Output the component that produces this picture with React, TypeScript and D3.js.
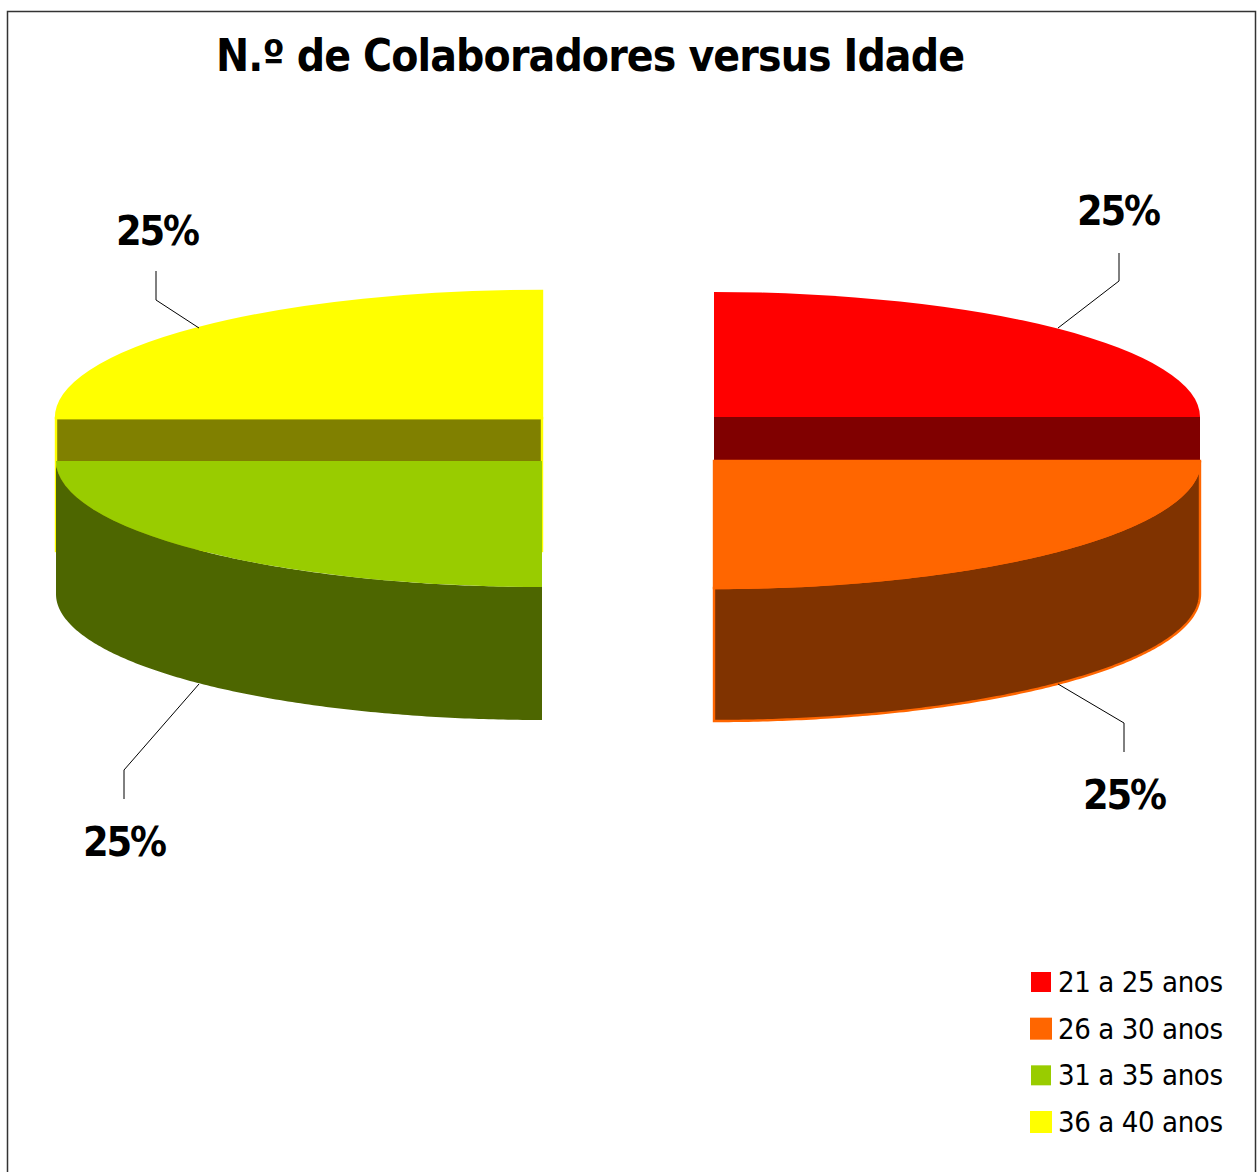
import React from "react";
import * as d3 from "d3";

const title = "N.º de Colaboradores versus Idade";
const categories = ["21 a 25 anos", "26 a 30 anos", "31 a 35 anos", "36 a 40 anos"];
const values = [25, 25, 25, 25];
const topColors = ["#ff0000", "#ff6600", "#99cc00", "#ffff00"];
const sideColors = ["#800000", "#803300", "#4d6600", "#808000"];
const strokeColors = ["none", "#ff6600", "none", "#ffff00"];

// where each exploded slice ended up on the page
const centers = [[714, 417], [714, 461], [542, 461], [542, 418]];
const radiusY = [125, 127, 126, 127];
const radiusX = 486;
const depth = 133;

// label anchor, then the leader line from the rim out to the label
const labelPos = [[1119, 225], [1125, 809], [125, 856], [158, 245]];
const leaders = [
  [[1058, 328], [1119, 281], [1119, 253]],
  [[1058, 684], [1124, 723], [1124, 752]],
  [[199, 684], [124, 770], [124, 799]],
  [[199, 328], [156, 300], [156, 271]],
];

const legendX = 1041;
const legendY = d3.scalePoint().domain(categories).range([982, 1122]);
const fontFamily = "'DejaVu Sans Condensed', 'DejaVu Sans', sans-serif";

const slices = d3.pie<number>().sort(null)(values);
const arc = d3.arc<d3.PieArcDatum<number>>().innerRadius(0).outerRadius(radiusX);
const leaderLine = d3.line();

// curved outer wall for the two front slices
function wallPath(s: d3.PieArcDatum<number>, i: number) {
  const [cx, cy] = centers[i];
  const ry = radiusY[i];
  const angles = d3.range(s.startAngle, s.endAngle, 0.01).concat(s.endAngle);
  return d3
    .area<number>()
    .x((a) => cx + radiusX * Math.sin(a))
    .y0((a) => cy - ry * Math.cos(a))
    .y1((a) => cy - ry * Math.cos(a) + depth)(angles);
}

function Slice({ s, i }: { s: d3.PieArcDatum<number>; i: number }) {
  const [cx, cy] = centers[i];
  const isFront = i === 1 || i === 2;
  const sw = strokeColors[i] === "none" ? 0 : 2.4;
  return (
    <g>
      {isFront ? (
        <path d={wallPath(s, i) || ""} fill={sideColors[i]} stroke={strokeColors[i]} strokeWidth={sw} />
      ) : (
        <rect
          x={i === 0 ? cx : cx - radiusX}
          y={cy}
          width={radiusX}
          height={depth}
          fill={sideColors[i]}
          stroke={strokeColors[i]}
          strokeWidth={sw}
        />
      )}
      <path
        d={arc(s) || ""}
        transform={`translate(${cx},${cy}) scale(1,${radiusY[i] / radiusX})`}
        fill={topColors[i]}
        stroke={strokeColors[i]}
        strokeWidth={sw}
        vectorEffect="non-scaling-stroke"
      />
    </g>
  );
}

export default function App() {
  // back slices first, the front ones sit on top of their hidden walls
  const drawOrder = [0, 3, 1, 2];
  return (
    <svg
      width={1258}
      height={1172}
      style={{ position: "absolute", left: 0, top: 0, background: "#fff" }}
      fontFamily={fontFamily}
    >
      <rect x={7.5} y={11.5} width={1248} height={1200} fill="#fff" stroke="#333" strokeWidth={1.5} />
      <text x={216} y={71} fontSize={44} fontWeight="bold" fill="#000" textLength={749} lengthAdjust="spacing">
        {title}
      </text>

      {drawOrder.map((i) => (
        <Slice key={categories[i]} s={slices[i]} i={i} />
      ))}

      {leaders.map((pts, i) => (
        <path key={i} d={leaderLine(pts as [number, number][]) || ""} fill="none" stroke="#000" strokeWidth={1} />
      ))}
      {values.map((v, i) => (
        <text
          key={i}
          x={labelPos[i][0]}
          y={labelPos[i][1]}
          textAnchor="middle"
          fontSize={41}
          fontWeight="bold"
          fill="#000"
          textLength={84}
          lengthAdjust="spacing"
        >
          {v}%
        </text>
      ))}

      {categories.map((c, i) => {
        const y = legendY(c) as number;
        const sw = strokeColors[i] === "none" ? 0 : 2;
        return (
          <g key={c}>
            <rect x={legendX - 10} y={y - 10} width={20} height={20} fill={topColors[i]} stroke={strokeColors[i]} strokeWidth={sw} />
            <text x={1058} y={y + 10} fontSize={29} fill="#000" textLength={165} lengthAdjust="spacing">
              {c}
            </text>
          </g>
        );
      })}
    </svg>
  );
}
